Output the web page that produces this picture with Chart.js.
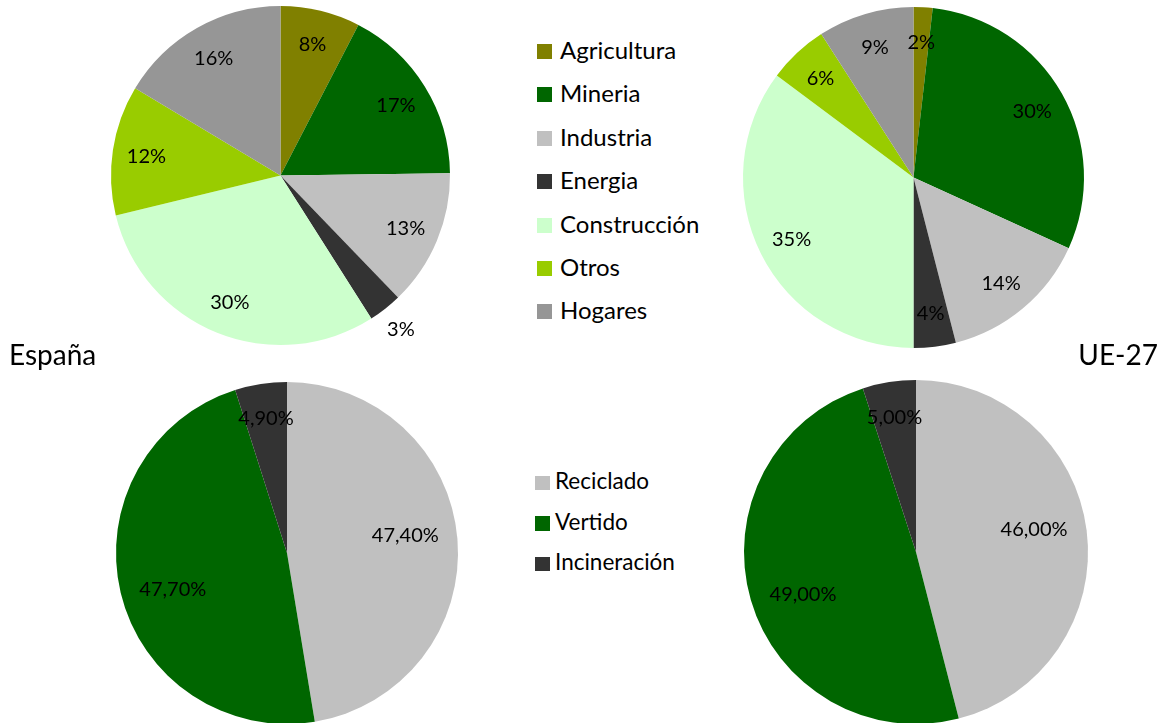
<!DOCTYPE html>
<html>
<head>
<meta charset="utf-8">
<script src="https://cdn.jsdelivr.net/npm/chart.js@4.4.0/dist/chart.umd.min.js"></script>
<style>
  body { margin: 0; width: 1167px; height: 723px; background: #fff; overflow: hidden; position: relative; font-family: Lato, sans-serif; color: #000; }
  canvas { position: absolute; }
  .txt { position: absolute; white-space: nowrap; }
  .sq { position: absolute; }
</style>
</head>
<body>
<canvas id="spainSectorChart"></canvas>
<canvas id="euSectorChart"></canvas>
<canvas id="spainTreatChart"></canvas>
<canvas id="euTreatChart"></canvas>
<div class="txt" style="left:9px; top:340px; font-size:28px; line-height:28px;">España</div>
<div class="txt" style="right:9px; top:340px; font-size:28px; line-height:28px;">UE-27</div>
<div id="sectorLegend"></div>
<div id="treatLegend"></div>
<script>
// Residuos por sector (%)
const sectors = ["Agricultura", "Mineria", "Industria", "Energia", "Construcción", "Otros", "Hogares"];
const sectorColors = ["#808000", "#006600", "#C0C0C0", "#333333", "#CCFFCC", "#99CC00", "#969696"];
const spainSectors = [7.6, 17.2, 13.0, 3.2, 30.2, 12.4, 16.4];
const euSectors = [1.8, 30.0, 14.2, 4.0, 35.2, 5.7, 9.1];

// Tratamiento (%)
const treatments = ["Reciclado", "Vertido", "Incineración"];
const treatmentColors = ["#C0C0C0", "#006600", "#333333"];
const spainTreatment = [47.4, 47.7, 4.9];
const euTreatment = [46.0, 49.0, 5.0];

// Draw percentage labels on the slices
const sliceLabels = {
  id: "sliceLabels",
  afterDatasetsDraw(chart, args, opts) {
    const ds = chart.data.datasets[0];
    const total = ds.data.reduce((a, b) => a + b, 0);
    const ctx = chart.ctx;
    ctx.save();
    ctx.font = "20px Lato";
    ctx.fillStyle = "#000";
    ctx.textAlign = "center";
    ctx.textBaseline = "middle";
    chart.getDatasetMeta(0).data.forEach((arc, i) => {
      const { x, y, startAngle, endAngle, outerRadius } = arc.getProps(
        ["x", "y", "startAngle", "endAngle", "outerRadius"], true
      );
      const pct = (ds.data[i] / total) * 100;
      let mid = (startAngle + endAngle) / 2;
      let f = 0.8;
      // big halves: Excel nudges the label a little back
      if (pct > 40) { f = 0.7; mid -= 0.07; }
      if (opts.outside && opts.outside.includes(i)) f = 1.15;
      const r = outerRadius * f;
      const text = opts.decimals
        ? pct.toFixed(2).replace(".", ",") + "%"
        : Math.round(pct) + "%";
      ctx.fillText(text, x + Math.cos(mid) * r, y + Math.sin(mid) * r + 1);
    });
    ctx.restore();
  },
};

// Build one pie on its canvas, placed by centre and radius
function makePie(id, labels, values, colors, cx, cy, radius, labelOpts) {
  const pad = 40;
  const size = Math.round(2 * (radius + pad));
  const canvas = document.getElementById(id);
  canvas.width = size;
  canvas.height = size;
  canvas.style.left = (cx - size / 2) + "px";
  canvas.style.top = (cy - size / 2) + "px";
  return new Chart(canvas.getContext("2d"), {
    type: "pie",
    data: {
      labels: labels,
      datasets: [{
        data: values,
        backgroundColor: colors,
        borderWidth: 0,
        hoverOffset: 0,
        hoverBorderWidth: 0,
      }],
    },
    options: {
      responsive: false,
      animation: false,
      layout: { padding: pad },
      plugins: {
        legend: { display: false },
        tooltip: { enabled: false },
        sliceLabels: labelOpts,
      },
    },
    plugins: [sliceLabels],
  });
}

makePie("spainSectorChart", sectors, spainSectors, sectorColors, 280.5, 175.5, 169.5, { outside: [3] });
makePie("euSectorChart", sectors, euSectors, sectorColors, 913.5, 177, 170.5, {});
makePie("spainTreatChart", treatments, spainTreatment, treatmentColors, 287, 552.5, 171, { decimals: true });
makePie("euTreatChart", treatments, euTreatment, treatmentColors, 915.5, 552, 172, { decimals: true });

// Legends
function makeLegend(id, labels, colors, sqLeft, sqSize, textLeft, firstTop, step, fontSize) {
  const box = document.getElementById(id);
  labels.forEach((name, i) => {
    const top = firstTop + i * step;
    const sq = document.createElement("div");
    sq.className = "sq";
    sq.style.cssText = `left:${sqLeft}px; top:${top + fontSize * 0.25}px; width:${sqSize}px; height:${sqSize}px; background:${colors[i]};`;
    const t = document.createElement("div");
    t.className = "txt";
    t.style.cssText = `left:${textLeft}px; top:${top}px; font-size:${fontSize}px; line-height:${fontSize}px;`;
    t.textContent = name;
    box.appendChild(sq);
    box.appendChild(t);
  });
}

makeLegend("sectorLegend", sectors, sectorColors, 537, 15, 560, 38, 43.4, 24);
makeLegend("treatLegend", treatments, treatmentColors, 535, 14.5, 555, 470, 40.5, 22.5);
</script>
</body>
</html>
